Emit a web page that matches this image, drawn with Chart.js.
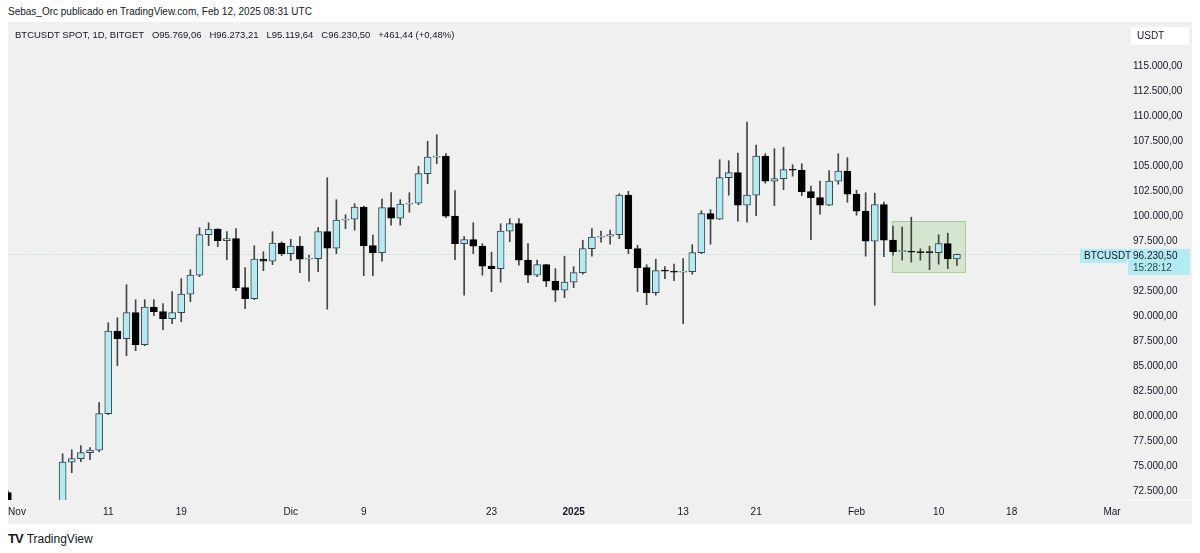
<!DOCTYPE html>
<html>
<head>
<meta charset="utf-8">
<title>BTCUSDT 1D</title>
<script src="https://cdn.jsdelivr.net/npm/chart.js@4.4.1/dist/chart.umd.min.js"></script>
<style>
  body { margin: 0; background: #fff; font-family: 'Liberation Sans', Arial, sans-serif; color: #131722; }
  #page { position: relative; width: 1200px; height: 553px; overflow: hidden; }
  #author { position: absolute; left: 8px; top: 6px; font-size: 10px; }
  #wrap { position: absolute; left: 8px; top: 22px; width: 1184px; height: 502px; background: #f0f0f0; }
  #legend { position: absolute; left: 15px; top: 29px; font-size: 9.5px; white-space: pre; }
  #footer { position: absolute; left: 8px; top: 531px; font-size: 12px; display: flex; align-items: center; gap: 4px; }
  #footer .logo { font-weight: 900; font-size: 13px; letter-spacing: -1px; }
</style>
</head>
<body>
<div id="page">
  <div id="author">Sebas_Orc publicado en TradingView.com, Feb 12, 2025 08:31 UTC</div>
  <div id="wrap"><canvas id="myChart"></canvas></div>
  <div id="legend">BTCUSDT SPOT, 1D, BITGET   O95.769,06   H96.273,21   L95.119,64   C96.230,50   +461,44 (+0,48%)</div>
  <div id="footer"><span class="logo">TV</span><span>TradingView</span></div>
</div>
<script>
// daily candles BTCUSDT spot (Bitget), 31 Oct 2024 .. 12 Feb 2025
var firstDay = Date.UTC(2024, 9, 31);
var dates = [];
for (var d = 0; d < 124; d++) {
    dates.push(new Date(firstDay + d * 86400000).toISOString().slice(0, 10));
}

var open = [72400, 70200, 69500, 69300, 68700, 67800, 69400, 75450, 75800, 76400,
    76650, 80300, 88550, 87800, 90400, 87200, 90950, 90500, 89800, 90400,
    92250, 94150, 98200, 98750, 97600, 97800, 92900, 91800, 95750, 95550,
    97350, 96300, 97050, 95750, 95800, 98500, 96850, 99650, 99750, 100950,
    97100, 96400, 100900, 99850, 101250, 101350, 104300, 105950, 106050, 100050,
    97300, 97700, 97050, 95050, 94800, 98550, 99300, 95650, 94150, 95200,
    93550, 92650, 93450, 94400, 96800, 97950, 98050, 98200, 102150, 96800,
    94900, 92400, 94600, 94550, 94450, 94500, 96400, 100300, 99750, 103900,
    104400, 101150, 102150, 106050, 103550, 103800, 104700, 104650, 102500, 101900,
    101150, 103550, 104550, 102250, 100550, 97550, 101200, 97650, 96500, 96550,
    96500, 96450, 96400, 97300, 95769.06];
var high = [72600, 71600, 69900, 69400, 69000, 70500, 76300, 76700, 77100, 76900,
    81400, 89400, 89900, 93200, 91700, 91700, 91700, 91300, 92500, 93800,
    94700, 98900, 99400, 98800, 98500, 98800, 94900, 97100, 96500, 98500,
    97500, 97750, 98000, 96150, 98900, 103900, 101700, 100200, 101300, 101050,
    98150, 101750, 102400, 101700, 102400, 105050, 107550, 108200, 106300, 102600,
    98000, 99400, 97300, 96450, 99300, 99800, 99800, 97300, 95650, 95250,
    94800, 96050, 95000, 97650, 98800, 98550, 98650, 102300, 102550, 97150,
    95200, 95750, 95000, 95250, 95800, 97200, 100600, 100700, 105700, 105600,
    106350, 109450, 107150, 106300, 106800, 106950, 105200, 105300, 103050, 103550,
    104600, 106300, 105900, 102650, 102400, 102350, 101450, 99050, 98950, 99950,
    96800, 97050, 98200, 98350, 96273.21];
var low = [69600, 68800, 69000, 67500, 66800, 67500, 68900, 74400, 75500, 75700,
    76500, 80200, 85100, 86100, 86600, 87100, 90100, 88700, 89300, 89500,
    91500, 94000, 97100, 97000, 95700, 92600, 90800, 91700, 94600, 95200,
    96100, 95600, 94400, 93550, 94500, 90750, 96300, 98800, 98650, 94100,
    94100, 95550, 99150, 99150, 100450, 101200, 103300, 105300, 99900, 95700,
    92150, 96300, 94150, 92500, 93450, 97500, 95150, 93400, 94000, 93000,
    91500, 91900, 92900, 94250, 96050, 97450, 97250, 97800, 96300, 92500,
    91200, 92150, 93800, 93600, 89300, 94250, 96300, 97250, 99700, 102150,
    99550, 99450, 100100, 103350, 101100, 102700, 104050, 102100, 97700, 100250,
    101100, 103250, 101450, 100150, 96050, 91150, 96000, 96150, 95650, 95450,
    95650, 94700, 95250, 94800, 95119.64];
var close = [70200, 69500, 69300, 68700, 67800, 69400, 75450, 75800, 76400, 76650,
    80300, 88550, 87800, 90400, 87200, 90950, 90500, 89800, 90400, 92250,
    94150, 98200, 98750, 97600, 97800, 92900, 91800, 95750, 95550, 97350,
    96300, 97050, 95750, 95800, 98500, 96850, 99650, 99750, 100950, 97100,
    96400, 100900, 99850, 101250, 101350, 104300, 105950, 106050, 100050, 97300,
    97700, 97050, 95050, 94800, 98550, 99300, 95650, 94150, 95200, 93550,
    92650, 93450, 94400, 96800, 97950, 98050, 98200, 102150, 96800, 94900,
    92400, 94600, 94550, 94450, 94500, 96400, 100300, 99750, 103900, 104400,
    101150, 102150, 106050, 103550, 103800, 104700, 104650, 102500, 101900, 101150,
    103550, 104550, 102250, 100550, 97550, 101200, 97650, 96500, 96550, 96450,
    96400, 96400, 97300, 95769.06, 96230.50];

var tickDates = ['2024-11-01', '2024-11-11', '2024-11-19', '2024-12-01', '2024-12-09', '2024-12-23',
    '2025-01-01', '2025-01-13', '2025-01-21', '2025-02-01', '2025-02-10', '2025-02-18', '2025-03-01'];
var tickLabels = ['Nov', '11', '19', 'Dic', '9', '23', '2025', '13', '21', 'Feb', '10', '18', 'Mar'];
var priceTicks = [72500, 75000, 77500, 80000, 82500, 85000, 87500, 90000, 92500, 95000,
    97500, 100000, 102500, 105000, 107500, 110000, 112500, 115000];

// consolidation box drawn on the chart (day index / price)
var zone = { x0: 96.85, x1: 104.9, y0: 94440, y1: 99570 };
var lastPrice = close[close.length - 1];
var countdown = '15:28:12';

function fmt(v) {
    var p = v.toFixed(2).split('.');
    return p[0].replace(/\B(?=(\d{3})+(?!\d))/g, '.') + ',' + p[1];
}

var isUp = open.map(function(o, i) { return close[i] >= o; });
var bodies = open.map(function(o, i) { return { x: i, y: [o, close[i]] }; });
var wicks = low.map(function(l, i) { return { x: i, y: [l, high[i]] }; });

var overlay = {
    id: 'overlay',
    beforeDatasetsDraw: function(chart) {
        var c = chart.ctx, x = chart.scales.x, y = chart.scales.y, a = chart.chartArea;
        c.save();
        var py = Math.round(y.getPixelForValue(lastPrice)) + 0.5;
        c.strokeStyle = 'rgba(80,165,180,0.4)';
        c.lineWidth = 1;
        c.setLineDash([1, 2]);
        c.beginPath(); c.moveTo(a.left, py); c.lineTo(a.right, py); c.stroke();
        c.setLineDash([]);

        var bx0 = x.getPixelForValue(zone.x0), bx1 = x.getPixelForValue(zone.x1);
        var by0 = y.getPixelForValue(zone.y1), by1 = y.getPixelForValue(zone.y0);
        c.fillStyle = 'rgba(142,200,120,0.27)';
        c.fillRect(bx0, by0, bx1 - bx0, by1 - by0);
        c.strokeStyle = 'rgba(125,190,105,0.6)';
        c.strokeRect(Math.round(bx0) + 0.5, Math.round(by0) + 0.5, Math.round(bx1 - bx0), Math.round(by1 - by0));
        c.restore();
    },
    afterDraw: function(chart) {
        var c = chart.ctx, y = chart.scales.y, a = chart.chartArea;
        var py = y.getPixelForValue(lastPrice);
        c.save();
        c.textBaseline = 'middle';
        c.font = "10px 'Liberation Sans', Arial, sans-serif";

        // separator in the corner
        c.fillStyle = '#ffffff';
        c.fillRect(a.right, a.bottom, chart.width - a.right, 1);

        // last price label on the scale
        c.fillStyle = '#b2ebf2';
        c.fillRect(a.right, py - 5.5, chart.width - a.right - 2, 26);
        c.fillRect(a.right - 48, py - 5.5, 47, 14);
        c.fillStyle = '#131722';
        c.fillText(fmt(lastPrice), a.right + 5, py + 1.5);
        c.fillText('BTCUSDT', a.right - 44, py + 1.5);
        c.fillStyle = '#2f4a50';
        c.fillText(countdown, a.right + 5, py + 14);

        // currency box
        c.fillStyle = '#ffffff';
        c.beginPath();
        c.roundRect(a.right + 3, 5, 58, 18, 3);
        c.fill();
        c.fillStyle = '#131722';
        c.fillText('USDT', a.right + 9, 14.5);
        c.restore();
    }
};

Chart.defaults.font.family = "'Liberation Sans', Arial, sans-serif";
Chart.defaults.font.size = 10;
Chart.defaults.color = '#131722';

new Chart(document.getElementById('myChart'), {
    type: 'bar',
    data: {
        labels: dates,
        datasets: [{
            label: 'body',
            data: bodies,
            backgroundColor: isUp.map(function(u) { return u ? '#b2ebf2' : '#000000'; }),
            borderColor: isUp.map(function(u) { return u ? '#37474f' : '#000000'; }),
            borderWidth: 1,
            borderSkipped: false,
            barThickness: 7,
            minBarLength: 1,
            grouped: false
        }, {
            label: 'wick',
            data: wicks,
            backgroundColor: '#444444',
            barThickness: 1,
            grouped: false
        }]
    },
    options: {
        responsive: true,
        maintainAspectRatio: false,
        animation: false,
        layout: { padding: 0 },
        plugins: { legend: { display: false }, tooltip: { enabled: false } },
        scales: {
            x: {
                type: 'linear',
                offset: false,
                min: 0.014,
                max: 122.75,
                grid: { display: false, drawTicks: false },
                border: { display: false },
                afterBuildTicks: function(s) {
                    s.ticks = tickDates.map(function(t) { return { value: dates.indexOf(t) }; });
                },
                afterFit: function(s) {
                    s.height = 24;
                    s.paddingLeft = 0;
                    s.paddingRight = 0;
                },
                ticks: {
                    autoSkip: false,
                    maxRotation: 0,
                    padding: 6,
                    callback: function(v, i) { return tickLabels[i]; },
                    font: function(ctx) {
                        return tickLabels[ctx.index] === '2025' ? { weight: 'bold', size: 10 } : { size: 10 };
                    }
                }
            },
            y: {
                position: 'right',
                min: 71670,
                max: 119470,
                grid: { display: false, drawTicks: false },
                border: { display: false },
                afterBuildTicks: function(s) {
                    s.ticks = priceTicks.map(function(v) { return { value: v }; });
                },
                afterFit: function(s) {
                    s.width = 64;
                    s.paddingTop = 0;
                    s.paddingBottom = 0;
                },
                ticks: {
                    padding: 5,
                    callback: function(v) { return fmt(v); }
                }
            }
        }
    },
    plugins: [overlay]
});
</script>
</body>
</html>
